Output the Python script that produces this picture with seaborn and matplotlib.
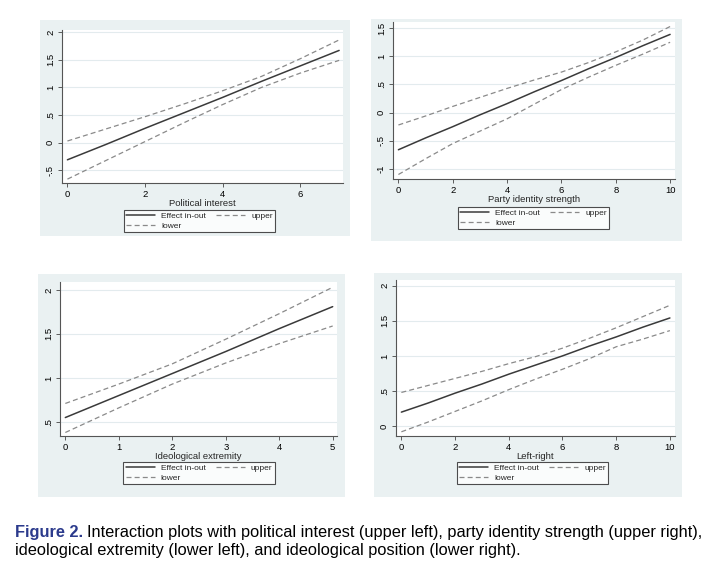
import numpy as np
import pandas as pd
import matplotlib
matplotlib.use('Agg')
import matplotlib.pyplot as plt
import seaborn as sns
from matplotlib.patches import Rectangle
from matplotlib.lines import Line2D
from matplotlib.ticker import FuncFormatter

sns.set_theme(style='white')
plt.rcParams['font.family'] = ['Liberation Sans', 'DejaVu Sans']

# Political interest (upper left)
pi_x = [0, 1, 2, 3, 4, 5, 6, 7]
pi_eff = [-0.31, -0.03, 0.26, 0.54, 0.82, 1.11, 1.39, 1.67]
pi_up = [0.03, 0.25, 0.47, 0.70, 0.94, 1.20, 1.52, 1.86]
pi_lo = [-0.66, -0.32, 0.02, 0.36, 0.69, 1.00, 1.26, 1.49]

# Party identity strength (upper right)
pid_x = [0, 1, 2, 3, 4, 5, 6, 7, 8, 9, 10]
pid_eff = [-0.66, -0.45, -0.25, -0.04, 0.16, 0.37, 0.57, 0.78, 0.98, 1.19, 1.39]
pid_up = [-0.22, -0.06, 0.11, 0.27, 0.43, 0.58, 0.72, 0.89, 1.08, 1.29, 1.53]
pid_lo = [-1.10, -0.82, -0.55, -0.33, -0.11, 0.15, 0.41, 0.63, 0.84, 1.04, 1.25]

# Ideological extremity (lower left)
ie_x = [0, 1, 2, 3, 4, 5]
ie_eff = [0.55, 0.80, 1.05, 1.30, 1.56, 1.81]
ie_up = [0.71, 0.93, 1.16, 1.44, 1.73, 2.03]
ie_lo = [0.38, 0.66, 0.93, 1.17, 1.39, 1.59]

# Left-right (lower right)
lr_x = [0, 1, 2, 3, 4, 5, 6, 7, 8, 9, 10]
lr_eff = [0.20, 0.33, 0.47, 0.60, 0.74, 0.87, 1.00, 1.14, 1.27, 1.41, 1.54]
lr_up = [0.48, 0.58, 0.68, 0.78, 0.89, 0.99, 1.11, 1.25, 1.40, 1.56, 1.72]
lr_lo = [-0.08, 0.06, 0.21, 0.36, 0.52, 0.67, 0.81, 0.96, 1.13, 1.24, 1.36]

panels = [
    dict(x=pi_x, eff=pi_eff, up=pi_up, lo=pi_lo, xlabel='Political interest',
         bg=[0.0556, 0.5852, 0.4306, 0.3796], ax=[0.0861, 0.6784, 0.3903, 0.2689],
         leg=(0.2771, 0.6116),
         xlim=(-0.14, 7.1), ylim=(-0.73, 2.04), xticks=[0, 2, 4, 6],
         yticks=[-0.5, 0, 0.5, 1, 1.5, 2]),
    dict(x=pid_x, eff=pid_eff, up=pid_up, lo=pid_lo, xlabel='Party identity strength',
         bg=[0.5153, 0.5764, 0.4319, 0.3902], ax=[0.5458, 0.6854, 0.3917, 0.2759],
         leg=(0.7410, 0.6169),
         xlim=(-0.2, 10.18), ylim=(-1.18, 1.61), xticks=[0, 2, 4, 6, 8, 10],
         yticks=[-1, -0.5, 0, 0.5, 1, 1.5]),
    dict(x=ie_x, eff=ie_eff, up=ie_up, lo=ie_lo, xlabel='Ideological extremity',
         bg=[0.0528, 0.1265, 0.4264, 0.3919], ax=[0.0833, 0.2337, 0.3847, 0.2707],
         leg=(0.2764, 0.1687),
         xlim=(-0.1, 5.08), ylim=(0.34, 2.09), xticks=[0, 1, 2, 3, 4, 5],
         yticks=[0.5, 1, 1.5, 2]),
    dict(x=lr_x, eff=lr_eff, up=lr_up, lo=lr_lo, xlabel='Left-right',
         bg=[0.5194, 0.1265, 0.4278, 0.3937], ax=[0.55, 0.2337, 0.3875, 0.2742],
         leg=(0.7396, 0.1687),
         xlim=(-0.2, 10.19), ylim=(-0.14, 2.08), xticks=[0, 2, 4, 6, 8, 10],
         yticks=[0, 0.5, 1, 1.5, 2]),
]

solid_col = '#3a3a3a'
dash_col = '#8a8a8a'
region_col = '#eaf1f2'
dash = (0, (4, 2.5))


def stata_fmt(v, pos):
    s = ('%g' % v)
    if s.startswith('0.'):
        s = s[1:]
    elif s.startswith('-0.'):
        s = '-' + s[2:]
    return s


fig = plt.figure(figsize=(7.2, 5.69), dpi=100)
fig.patch.set_facecolor('white')

for p in panels:
    fig.patches.append(Rectangle((p['bg'][0], p['bg'][1]), p['bg'][2], p['bg'][3],
                                 transform=fig.transFigure, facecolor=region_col,
                                 edgecolor='none', zorder=-5))
    ax = fig.add_axes(p['ax'])
    ax.set_facecolor('white')
    sns.lineplot(x=p['x'], y=p['eff'], ax=ax, color=solid_col, linewidth=1.1)
    sns.lineplot(x=p['x'], y=p['up'], ax=ax, color=dash_col, linewidth=0.9,
                 linestyle=dash)
    sns.lineplot(x=p['x'], y=p['lo'], ax=ax, color=dash_col, linewidth=0.9,
                 linestyle=dash)
    ax.set_xlim(*p['xlim'])
    ax.set_ylim(*p['ylim'])
    ax.set_xticks(p['xticks'])
    ax.set_yticks(p['yticks'])
    ax.yaxis.set_major_formatter(FuncFormatter(stata_fmt))
    for lab in ax.get_yticklabels():
        lab.set_rotation(90)
        lab.set_va('center')
    ax.tick_params(axis='both', labelsize=6.8, length=3, width=0.6,
                   direction='out', colors='#444444', labelcolor='black', pad=2)
    ax.tick_params(left=True, bottom=True)
    ax.grid(axis='y', color='#e3ebee', linewidth=0.8)
    ax.grid(axis='x', visible=False)
    for side in ['top', 'right']:
        ax.spines[side].set_visible(False)
    for side in ['left', 'bottom']:
        ax.spines[side].set_color('#555555')
        ax.spines[side].set_linewidth(0.8)
    ax.set_xlabel(p['xlabel'], fontsize=6.8, labelpad=0.2)
    ax.set_ylabel('')

    handles = [Line2D([], [], color=solid_col, linewidth=1.1),
               Line2D([], [], color=dash_col, linewidth=0.9, linestyle=dash),
               Line2D([], [], color=dash_col, linewidth=0.9, linestyle=dash)]
    labels = ['Effect in-out', 'lower', 'upper']
    leg = fig.legend(handles, labels, ncol=2, loc='center',
                     bbox_to_anchor=p['leg'], bbox_transform=fig.transFigure,
                     fontsize=6, frameon=True, fancybox=False,
                     handlelength=3.5, handletextpad=0.7, columnspacing=1.2,
                     labelspacing=0.25, borderpad=0.3, borderaxespad=0)
    leg.get_frame().set_edgecolor('#222222')
    leg.get_frame().set_linewidth(0.8)
    leg.get_frame().set_facecolor('white')

# Caption
cap_font = ['Liberation Sans', 'DejaVu Sans']
t1 = fig.text(0.021, 1 - 532 / 569, 'Figure 2.', fontsize=11.8, color='#2b3a8c',
              fontweight='bold', family=cap_font, va='center')
fig.canvas.draw()
bb = t1.get_window_extent()
x2 = (bb.x1 + 4) / fig.bbox.width
fig.text(x2, 1 - 532 / 569,
         'Interaction plots with political interest (upper left), party identity strength (upper right),',
         fontsize=11.8, color='black', family=cap_font, va='center')
fig.text(0.021, 1 - 550 / 569,
         'ideological extremity (lower left), and ideological position (lower right).',
         fontsize=11.8, color='black', family=cap_font, va='center')

fig.savefig('out.png', dpi=100)
